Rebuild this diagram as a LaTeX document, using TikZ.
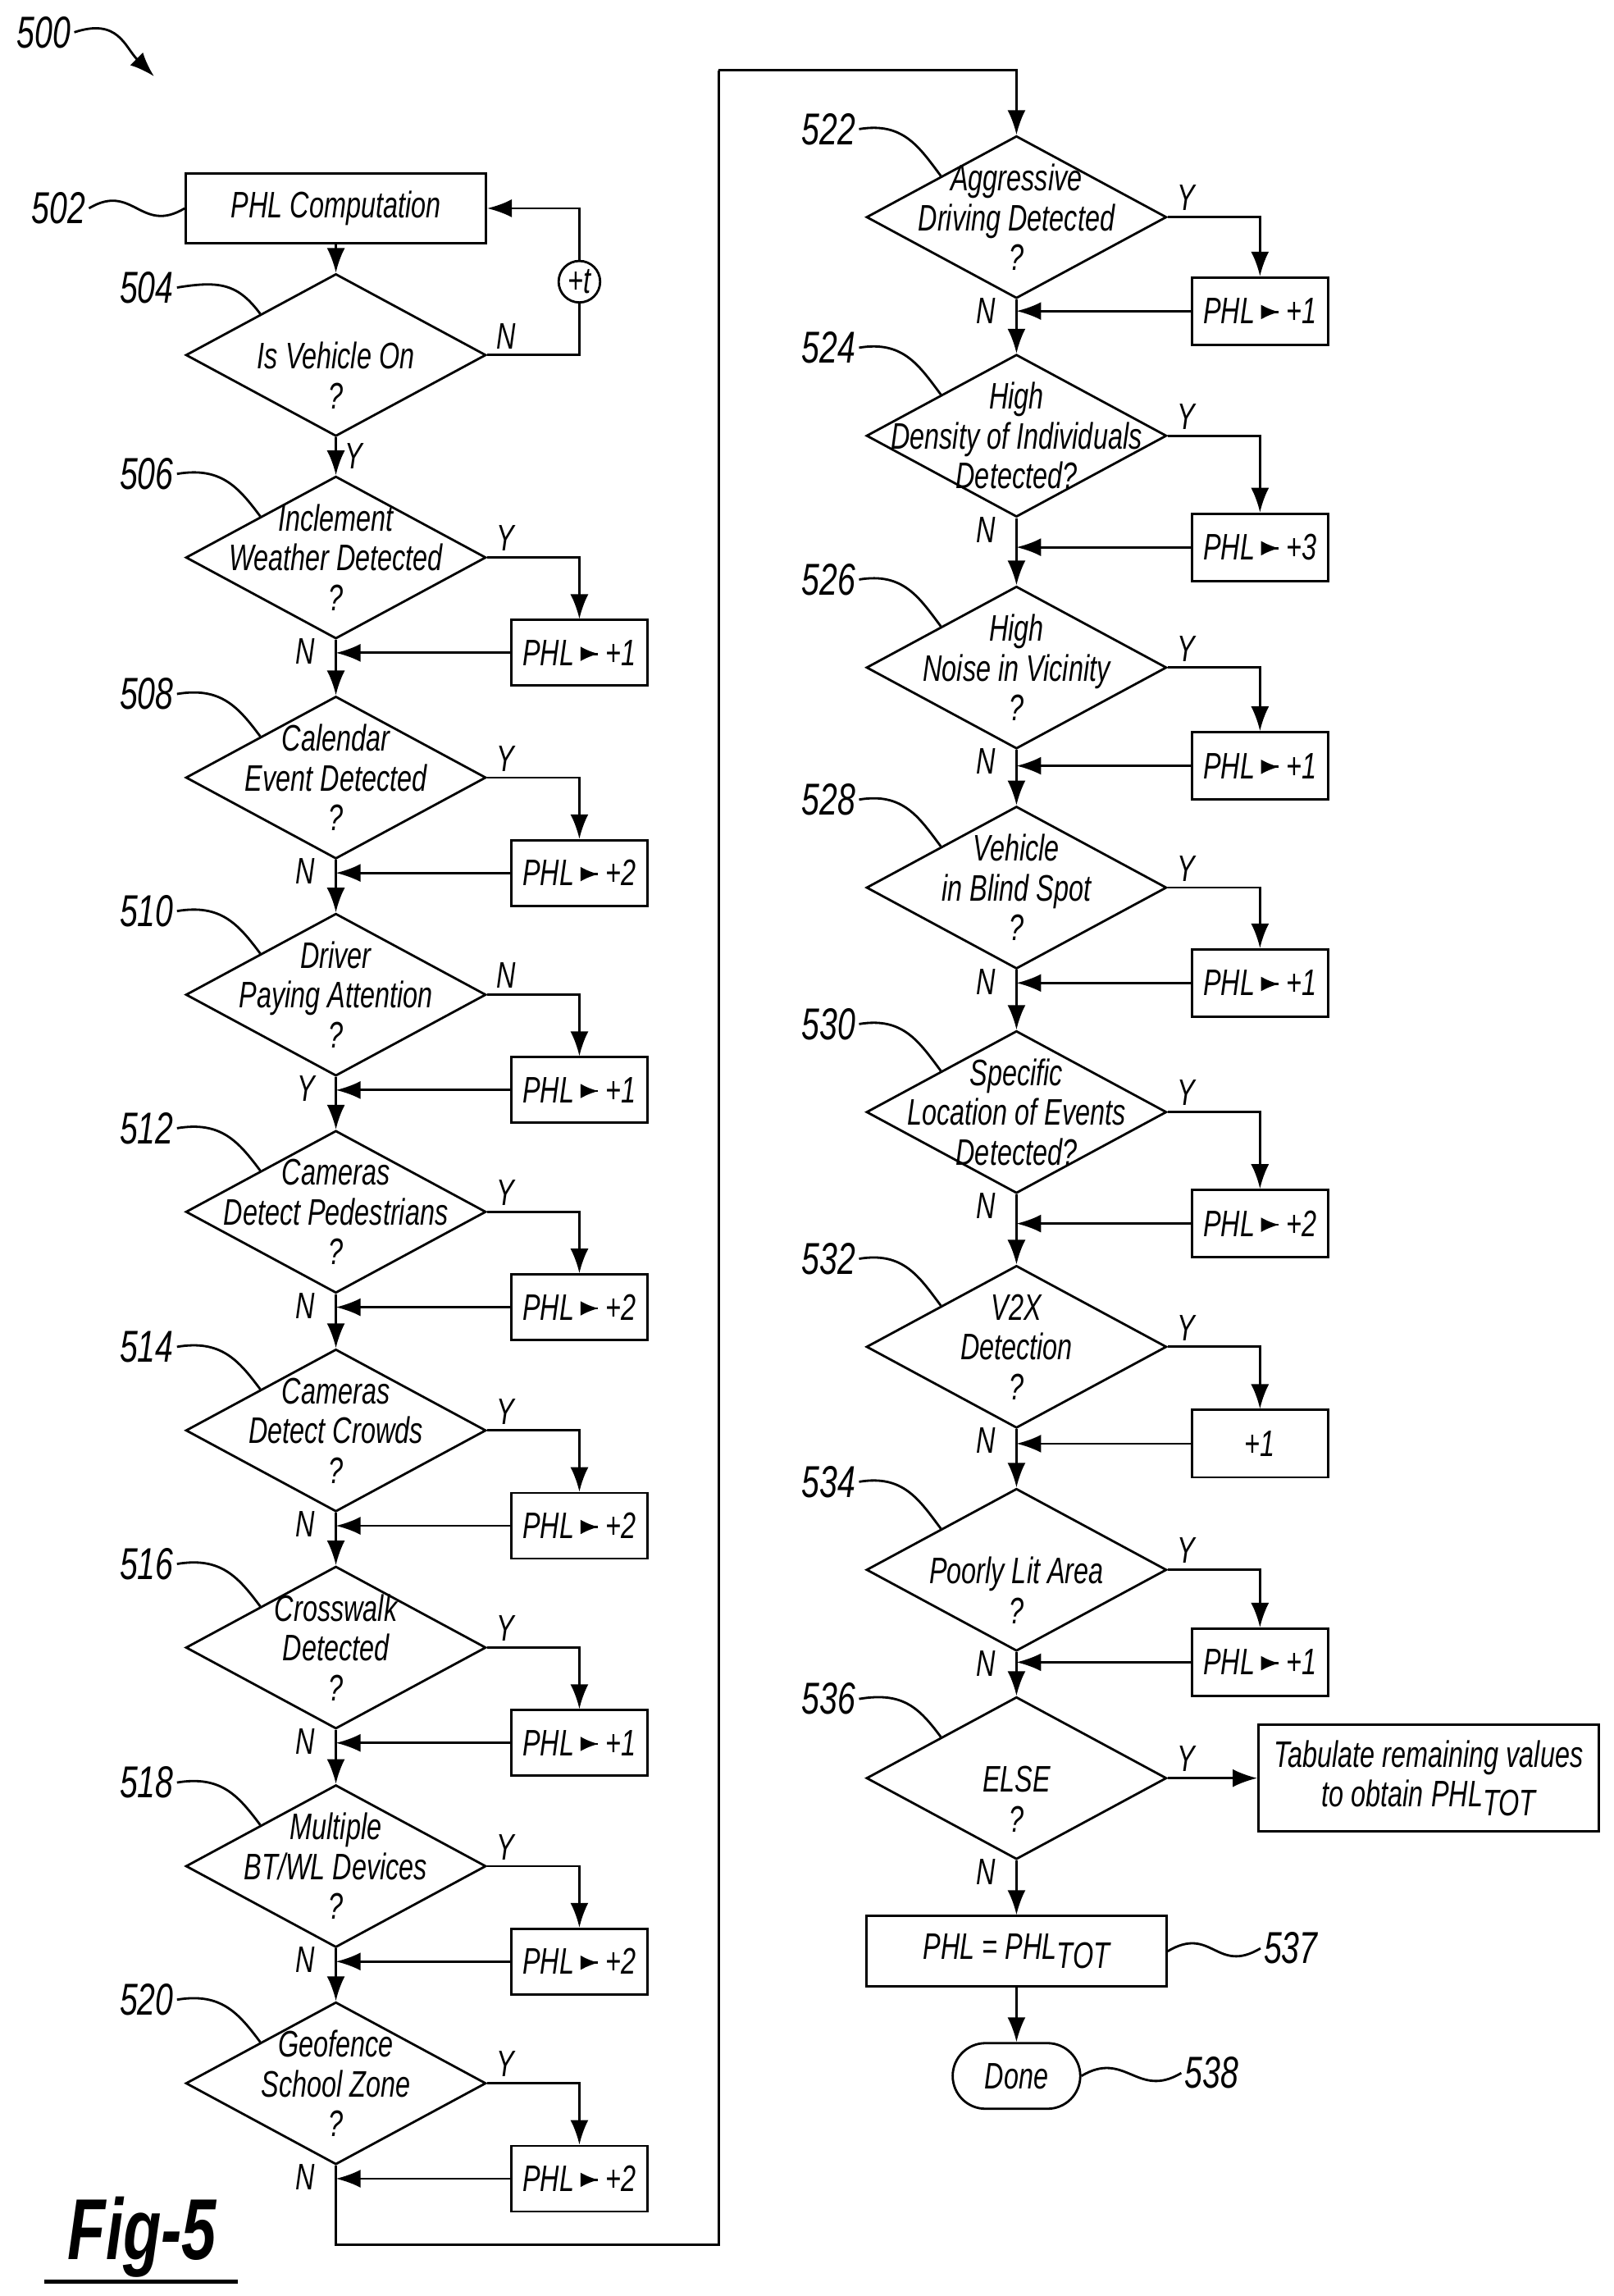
\documentclass[tikz,border=0pt]{standalone}
\usepackage{fontspec}
\setmainfont{Liberation Sans}[FakeStretch=0.72]
\usetikzlibrary{shapes.geometric, shapes.misc, positioning, arrows.meta}

\newcommand{\ftxt}{\fontsize{12.8}{13.8}\selectfont\itshape}
\newcommand{\phlto}{PHL\,\tikz[baseline=-0.6ex]\draw[thick,-{Latex[length=2.2mm,width=1.8mm]}] (0,0) -- (0.32,0);\,}

\tikzset{
  dec/.style={draw, thick, diamond, minimum width=3.66cm, minimum height=1.98cm, inner sep=0pt},
  txt/.style={align=center, font=\ftxt, inner sep=0pt},
  box/.style={draw, thick, minimum width=1.66cm, minimum height=0.8cm, inner sep=1pt, font=\ftxt},
  ref/.style={font=\fontsize{15.5}{16}\selectfont\itshape, inner sep=1pt},
  yn/.style={font=\ftxt, inner sep=1pt},
  flow/.style={thick, -{Latex[length=3mm, width=2.2mm]}},
  line/.style={thick}
}

\begin{document}
\begin{tikzpicture}[x=0.01788cm, y=-0.01788cm]
  \useasboundingbox (0,0) rectangle (1100,1565);

  % start
  \node[ref] at (30,22) (l500) {500};
  \draw[flow] (l500.east) .. controls +(30,-10) and +(-20,-20) .. (105,52);

  \node[box, minimum width=3.66cm, minimum height=0.85cm] at (229,142) (b502) {PHL Computation};
  \node[ref] at (40,142) (l502) {502};
  \draw[line] (l502.east) .. controls +(30,-18) and +(-30,18) .. (b502.west);

  \node[dec] at (229,242) (d504) {};
  \node[txt] at (d504) {\strut\\Is Vehicle On\\?};
  \node[ref] at (100,196) (l504) {504};
  \draw[line] (l504.east) .. controls +(30,-5) and +(-15,-20) .. (d504.north west);
  \draw[flow] (b502.south) -- (d504.north);
  \node[draw, thick, circle, inner sep=1pt, font=\ftxt] at (395,192) (t) {+t};
  \draw[line] (d504.east) -| (t.south);
  \draw[flow] (t.north) |- (b502.east);
  \node[yn, above right=1pt and 2pt of d504.east] {N};
  \node[yn, below right=1pt and 2pt of d504.south] {Y};

  % left column
  \foreach \n/\yy/\txt/\ra/\ba/\bx [remember=\n as \prev (initially 504)] in {
      506/380/{Inclement\\Weather Detected\\?}/Y/N/+1,
      508/530/{Calendar\\Event Detected\\?}/Y/N/+2,
      510/678/{Driver\\Paying Attention\\?}/N/Y/+1,
      512/826/{Cameras\\Detect Pedestrians\\?}/Y/N/+2,
      514/975/{Cameras\\Detect Crowds\\?}/Y/N/+2,
      516/1123/{Crosswalk\\Detected\\?}/Y/N/+1,
      518/1272/{Multiple\\BT/WL Devices\\?}/Y/N/+2,
      520/1420/{Geofence\\School Zone\\?}/Y/N/+2} {
    \node[dec] at (229,\yy) (d\n) {};
    \node[txt] at (d\n) {\txt};
    \node[ref] at (100,\yy-57) (l\n) {\n};
    \draw[line] (l\n.east) .. controls +(30,-5) and +(-15,-20) .. (d\n.north west);
    \draw[flow] (d\prev.south) -- (d\n.north);
    \node[box] at (395,\yy+65) (b\n) {\phlto\bx};
    \draw[flow] (d\n.east) -| (b\n.north);
    \draw[flow] (b\n.west) -- (b\n.west -| d\n.south);
    \node[yn, above right=1pt and 2pt of d\n.east] {\ra};
    \node[yn, left=6pt of d\n.south, yshift=-4pt] {\ba};
  }

  % link to right column
  \coordinate (c1) at (229,1530);
  \coordinate (c2) at (490,48);
  \draw[line] (d520.south) -- (c1) -| (c2);

  % right column
  \foreach \n/\yy/\by/\txt/\bx [remember=\n as \prev (initially 520)] in {
      522/148/212/{Aggressive\\Driving Detected\\?}/\phlto+1,
      524/297/373/{High\\Density of Individuals\\Detected?}/\phlto+3,
      526/455/522/{High\\Noise in Vicinity\\?}/\phlto+1,
      528/605/670/{Vehicle\\in Blind Spot\\?}/\phlto+1,
      530/758/834/{Specific\\Location of Events\\Detected?}/\phlto+2,
      532/918/984/{V2X\\Detection\\?}/+1,
      534/1070/1133/{\strut\\Poorly Lit Area\\?}/\phlto+1} {
    \node[dec] at (693,\yy) (d\n) {};
    \node[txt] at (d\n) {\txt};
    \node[ref] at (565,\yy-60) (l\n) {\n};
    \draw[line] (l\n.east) .. controls +(30,-5) and +(-15,-20) .. (d\n.north west);
    \ifnum\n=522
      \draw[flow] (c2) -| (d\n.north);
    \else
      \draw[flow] (d\prev.south) -- (d\n.north);
    \fi
    \node[box, minimum width=1.66cm, minimum height=0.82cm] at (859,\by) (b\n) {\bx};
    \draw[flow] (d\n.east) -| (b\n.north);
    \draw[flow] (b\n.west) -- (b\n.west -| d\n.south);
    \node[yn, above right=1pt and 2pt of d\n.east] {Y};
    \node[yn, left=6pt of d\n.south, yshift=-4pt] {N};
  }

  % end
  \node[dec] at (693,1212) (d536) {};
  \node[txt] at (d536) {\strut\\ELSE\\?};
  \node[ref] at (565,1158) (l536) {536};
  \draw[line] (l536.east) .. controls +(30,-5) and +(-15,-20) .. (d536.north west);
  \draw[flow] (d534.south) -- (d536.north);
  \node[box, minimum width=4.15cm, minimum height=1.3cm, align=center] at (974,1212) (tab)
    {Tabulate remaining values\\to obtain PHL\raisebox{-3pt}{TOT}};
  \draw[flow] (d536.east) -- (tab.west);
  \node[yn, above right=1pt and 2pt of d536.east] {Y};
  \node[yn, left=6pt of d536.south, yshift=-4pt] {N};

  \node[box, minimum width=3.66cm, minimum height=0.86cm] at (693,1330) (b537) {PHL = PHL\raisebox{-3pt}{TOT}};
  \draw[flow] (d536.south) -- (b537.north);
  \node[ref] at (880,1328) (l537) {537};
  \draw[line] (b537.east) .. controls +(30,-18) and +(-30,18) .. (l537.west);

  \node[draw, thick, rounded rectangle, minimum width=1.79cm, minimum height=0.8cm, font=\ftxt] at (693,1415) (done) {Done};
  \draw[flow] (b537.south) -- (done.north);
  \node[ref] at (826,1413) (l538) {538};
  \draw[line] (done.east) .. controls +(30,-18) and +(-30,18) .. (l538.west);

  % figure label
  \node[font=\fontsize{30}{32}\selectfont\bfseries\itshape] at (97,1525) (fig) {Fig-5};
  \draw[line, line width=1.5pt] (30,1555) -- (162,1555);
\end{tikzpicture}
\end{document}
